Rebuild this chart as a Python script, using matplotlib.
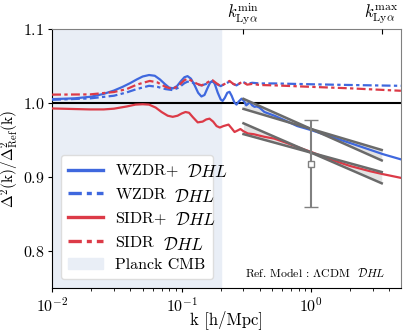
import numpy as np
import matplotlib
matplotlib.use("Agg")
import matplotlib.pyplot as plt
from matplotlib.transforms import IdentityTransform
from matplotlib.font_manager import FontProperties

plt.rcParams['font.family'] = 'serif'
plt.rcParams['font.serif'] = ['cmr10']
plt.rcParams['mathtext.fontset'] = 'cm'
plt.rcParams['axes.formatter.use_mathtext'] = True
plt.rcParams['axes.unicode_minus'] = False

# --- datos ---
k_wzdr_plus = [0.0100, 0.0150, 0.0200, 0.0250, 0.0300, 0.0350, 0.0400, 0.0450, 0.0500, 0.0560,
               0.0620, 0.0680, 0.0740, 0.0800, 0.0860, 0.0920, 0.0990, 0.1050, 0.1110, 0.1180,
               0.1260, 0.1340, 0.1420, 0.1500, 0.1580, 0.1660, 0.1730, 0.1800, 0.1900, 0.2000,
               0.2070, 0.2150, 0.2250, 0.2340, 0.2430, 0.2550, 0.2650, 0.2750, 0.2900, 0.3020,
               0.3150, 0.3250, 0.3350, 0.3500, 0.3650, 0.3800, 0.3980, 0.4350, 0.5200, 0.6200,
               0.7800, 1.0, 1.4, 2.0, 2.84, 3.58, 4.92]
r_wzdr_plus = [1.0054, 1.0065, 1.0087, 1.0125, 1.017, 1.022, 1.027, 1.032, 1.036, 1.038,
               1.037, 1.032, 1.026, 1.021, 1.020, 1.023, 1.030, 1.035, 1.0365, 1.033,
               1.024, 1.014, 1.009, 1.011, 1.020, 1.028, 1.030, 1.026, 1.014, 1.005,
               1.003, 1.007, 1.014, 1.0153, 1.010, 1.001, 0.998, 1.002, 1.006, 1.003,
               0.997, 0.999, 1.0015, 0.997, 0.995, 0.9955, 0.994, 0.988, 0.983, 0.977,
               0.969, 0.9635, 0.955, 0.946, 0.937, 0.931, 0.924]

k_wzdr = [0.01, 0.0196, 0.03, 0.0377, 0.045, 0.056, 0.065, 0.075, 0.0853, 0.095,
          0.105, 0.111, 0.12, 0.132, 0.143, 0.155, 0.165, 0.173, 0.185, 0.2,
          0.215, 0.234, 0.25, 0.265, 0.294, 0.32, 0.35, 0.4, 0.52, 1.0, 2.0, 4.92]
r_wzdr = [1.0045, 1.0064, 1.010, 1.0145, 1.019, 1.0234, 1.022, 1.019, 1.0176, 1.021,
          1.027, 1.029, 1.028, 1.025, 1.024, 1.026, 1.028, 1.029, 1.026, 1.023,
          1.026, 1.029, 1.026, 1.024, 1.029, 1.026, 1.0275, 1.0266, 1.0266, 1.0255, 1.0245, 1.0234]

k_sidr_plus = [0.01, 0.015, 0.0196, 0.025, 0.03, 0.0377, 0.044, 0.05, 0.056, 0.063,
               0.07, 0.078, 0.0853, 0.093, 0.1, 0.107, 0.114, 0.122, 0.133, 0.145,
               0.155, 0.164, 0.175, 0.186, 0.197, 0.21, 0.23, 0.243, 0.256, 0.27,
               0.284, 0.3, 0.324, 0.36, 0.4, 0.435, 0.52, 0.65, 0.8, 1.0,
               1.4, 2.0, 2.84, 3.58, 4.92]
r_sidr_plus = [0.9928, 0.992, 0.9915, 0.9915, 0.9925, 0.9955, 0.998, 0.9985, 0.998, 0.994,
               0.988, 0.983, 0.9815, 0.983, 0.986, 0.988, 0.987, 0.981, 0.974, 0.975,
               0.978, 0.979, 0.975, 0.969, 0.967, 0.969, 0.971, 0.966, 0.961, 0.963,
               0.965, 0.962, 0.959, 0.958, 0.956, 0.9545, 0.952, 0.946, 0.940, 0.934,
               0.924, 0.915, 0.908, 0.904, 0.899]

k_sidr = [0.01, 0.0196, 0.03, 0.0377, 0.045, 0.0567, 0.065, 0.075, 0.0853, 0.095,
          0.105, 0.111, 0.12, 0.132, 0.143, 0.155, 0.165, 0.173, 0.185, 0.2,
          0.215, 0.234, 0.25, 0.265, 0.294, 0.32, 0.35, 0.4, 0.52, 1.0, 2.0, 4.92]
r_sidr = [1.0115, 1.0118, 1.015, 1.019, 1.025, 1.030, 1.028, 1.022, 1.019, 1.024,
          1.031, 1.033, 1.030, 1.026, 1.024, 1.027, 1.030, 1.031, 1.027, 1.023,
          1.026, 1.030, 1.026, 1.024, 1.029, 1.025, 1.026, 1.0245, 1.024, 1.022, 1.020, 1.0167]

modelos = ['WZDR+', 'WZDR', 'SIDR+', 'SIDR']
sufijo = r'$\mathcal{D}HL$'

# Lyman-alpha
k_lya_min = 0.3
k_lya_max = 3.5
lya_pivots = [0.965, 0.933]
lya_slopes = [(-0.078, -0.052), (-0.076, -0.048)]
lya_point = 0.918
lya_err = 0.059

planck_kmax = 0.2

azul = '#3f68de'
rojo = '#dc3a47'
dd = (4, 1.5, 1.5, 1.5)
fs_leg = 11.5
fs_math = 12.5
gap = 9

fig = plt.figure(figsize=(4.07, 3.35), dpi=100)
ax = fig.add_axes([0.128, 0.140, 0.857, 0.773])
renderer = fig.canvas.get_renderer()

# medir anchos para el hueco del sufijo
tmp = fig.text(0, 0, sufijo, fontsize=fs_math)
w_suf = tmp.get_window_extent(renderer).width
tmp.set_text(r'$m$')
tmp.set_fontsize(fs_leg)
w_m = tmp.get_window_extent(renderer).width
tmp.remove()
hs = (gap + w_suf) / w_m

banda = ax.axvspan(0.01, planck_kmax, color='#e9eef6', zorder=0)
ax.axhline(1.0, color='black', lw=1.5, zorder=1)

l1, = ax.plot(k_wzdr_plus, r_wzdr_plus, color=azul, lw=1.6, zorder=3)
l2, = ax.plot(k_wzdr, r_wzdr, color=azul, lw=1.6, dashes=dd, zorder=3)
l3, = ax.plot(k_sidr_plus, r_sidr_plus, color=rojo, lw=1.6, zorder=3)
l4, = ax.plot(k_sidr, r_sidr, color=rojo, lw=1.6, dashes=dd, zorder=3)

# pendientes Lya
kk = np.array([k_lya_min, k_lya_max])
for piv, (s1, s2) in zip(lya_pivots, lya_slopes):
    y1 = piv + s1 * np.log10(kk)
    y2 = piv + s2 * np.log10(kk)
    ax.fill_between([k_lya_min, 1.0, k_lya_max], [y1[0], piv, y1[1]], [y2[0], piv, y2[1]],
                    color='#dcdcdc', alpha=0.8, lw=0, zorder=2)
    ax.plot(kk, y1, color='#6a6a6a', lw=1.8, zorder=4)
    ax.plot(kk, y2, color='#6a6a6a', lw=1.8, zorder=4)

ax.errorbar([1.0], [lya_point], yerr=[lya_err], color='gray', marker='s', ms=4,
            mfc='white', mec='gray', capsize=5, lw=1.5, zorder=5)

ax.set_xscale('log')
ax.set_xlim(0.01, 4.92)
ax.set_ylim(0.75, 1.1)
ax.set_yticks([0.8, 0.9, 1.0, 1.1])
ax.tick_params(labelsize=11.5, length=3, pad=2.5)
ax.tick_params(which='minor', length=2)
ax.set_xlabel('k [h/Mpc]', fontsize=12)
ax.xaxis.set_label_coords(0.5, -0.085)
ax.set_ylabel(r'$\Delta^2(\mathrm{k})/\Delta^2_{\mathrm{Ref}}(\mathrm{k})$', fontsize=11)
ax.yaxis.set_label_coords(-0.09, 0.5)
ax.spines['top'].set_color('gray')
ax.spines['right'].set_color('gray')

ax2 = ax.twiny()
ax2.set_xscale('log')
ax2.set_xlim(ax.get_xlim())
ax2.set_xticks([k_lya_min, k_lya_max])
ax2.set_xticklabels([r'$k_{\rm Ly\alpha}^{\rm min}$', r'$k_{\rm Ly\alpha}^{\rm max}$'], fontsize=12)
ax2.xaxis.set_minor_locator(matplotlib.ticker.NullLocator())
ax2.tick_params(axis='x', direction='in', pad=2)
for s in ax2.spines.values():
    s.set_visible(False)

ax.text(0.955, 0.035, r'Ref. Model : $\Lambda$CDM  $\mathcal{D}HL$', transform=ax.transAxes,
        ha='right', va='bottom', fontsize=8.5)

etiquetas = [m + r'$\hspace{%.2f}$' % hs for m in modelos] + ['Planck CMB']
leg = ax.legend([l1, l2, l3, l4, banda], etiquetas,
                loc='lower left', bbox_to_anchor=(0.026, 0.035), borderaxespad=0,
                fontsize=fs_leg, handlelength=2.15, handletextpad=0.8, framealpha=1.0,
                labelspacing=0.5, borderpad=0.45)
leg.get_frame().set_edgecolor('#dddddd')
for h in leg.get_lines():
    h.set_linewidth(2.4)

# sufijo DHL detras de cada nombre
fig.canvas.draw()
prop = FontProperties(family='serif', size=fs_leg)
for m, t in zip(modelos, leg.get_texts()[:4]):
    bb = t.get_window_extent(renderer)
    w, h, d = renderer.get_text_width_height_descent(m, prop, ismath=False)
    x0 = bb.x0 + w + gap
    ybase = bb.y0 + d
    fig.text(x0, ybase, sufijo, fontsize=fs_math, va='baseline', ha='left',
             transform=IdentityTransform(), zorder=10)

fig.savefig('out.png', dpi=100)
